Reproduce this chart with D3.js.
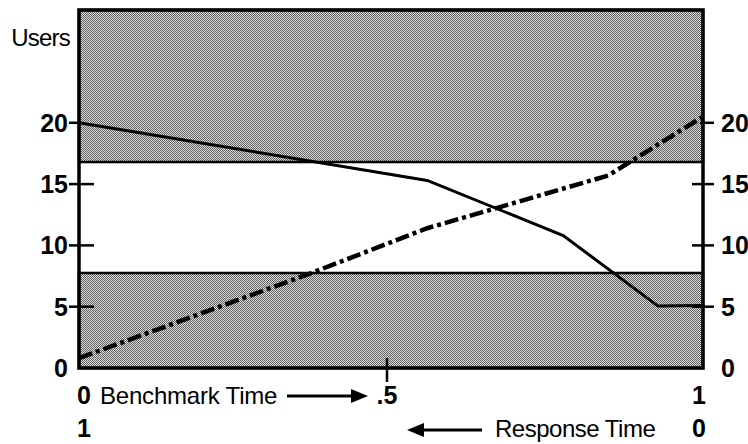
<!DOCTYPE html>
<html>
<head>
<meta charset="utf-8">
<script src="https://cdn.jsdelivr.net/npm/d3@7"></script>
<style>
  body { margin: 0; background: #fff; }
  svg { display: block; font-family: "Liberation Sans", Arial, Helvetica, sans-serif; }
</style>
</head>
<body>
<div id="chart"></div>
<script>
// data
var userTicks = [0, 5, 10, 15, 20];
var bands = [[16.8, 29.2], [0, 7.75]];     // shaded ranges of users
var solidX = [0, 0.558, 0.776, 0.928, 1];
var solidY = [20, 15.3, 10.8, 5.05, 5.1];
var dashX = [0, 0.37, 0.558, 0.848, 1];
var dashY = [0.8, 7.7, 11.4, 15.7, 20.5];
var benchTicks = [0, 0.5, 1];
var benchLabels = ["0", ".5", "1"];
var respLabels = ["1", "", "0"];

var width = 748, height = 444;

var svg = d3.select('#chart')
    .append('svg')
    .attr('width', width)
    .attr('height', height);

var x = d3.scaleLinear().domain([0, 1]).range([79, 703]);
var y = d3.scaleLinear().domain([0, 29.2]).range([368, 10]);

// checker shading
var defs = svg.append('defs');
var pat = defs.append('pattern')
    .attr('id', 'dots')
    .attr('width', 2).attr('height', 2)
    .attr('patternUnits', 'userSpaceOnUse');
pat.append('rect').attr('width', 2).attr('height', 2).attr('fill', '#dedede');
pat.append('rect').attr('x', 0).attr('y', 0).attr('width', 1).attr('height', 1).attr('fill', '#5e5e5e');
pat.append('rect').attr('x', 1).attr('y', 1).attr('width', 1).attr('height', 1).attr('fill', '#5e5e5e');

svg.selectAll('rect.band')
    .data(bands)
    .enter()
    .append('rect')
    .attr('class', 'band')
    .attr('x', x(0))
    .attr('width', x(1) - x(0))
    .attr('y', function (d) { return y(d[1]); })
    .attr('height', function (d) { return y(d[0]) - y(d[1]); })
    .attr('fill', 'url(#dots)')
    .attr('stroke', '#000')
    .attr('stroke-width', 2.5);

// frame
svg.append('rect')
    .attr('x', x(0)).attr('y', y(29.2))
    .attr('width', x(1) - x(0))
    .attr('height', y(0) - y(29.2))
    .attr('fill', 'none')
    .attr('stroke', '#000')
    .attr('stroke-width', 3.5);

// y ticks both sides
var tickG = svg.append('g').attr('stroke', '#000').attr('stroke-width', 2.5);
userTicks.filter(function (d) { return d > 0; }).forEach(function (d) {
    tickG.append('line')
        .attr('x1', x(0) - 10).attr('x2', d === 20 ? x(0) : x(0) + 15)
        .attr('y1', y(d)).attr('y2', y(d));
    tickG.append('line')
        .attr('x1', x(1) - (d === 20 ? 3 : 11)).attr('x2', x(1) + 11)
        .attr('y1', y(d)).attr('y2', y(d));
});
// .5 tick
tickG.append('line')
    .attr('x1', x(0.5) - 4).attr('x2', x(0.5) - 4)
    .attr('y1', y(0) - 10).attr('y2', y(0) + 14);

svg.selectAll('text.yl')
    .data(userTicks)
    .enter()
    .append('text')
    .attr('class', 'yl')
    .attr('x', x(0) - 11)
    .attr('y', function (d) { return y(d); })
    .attr('dy', '0.36em')
    .attr('text-anchor', 'end')
    .attr('font-size', 25)
    .attr('font-weight', 'bold')
    .text(function (d) { return d; });

svg.selectAll('text.yr')
    .data(userTicks)
    .enter()
    .append('text')
    .attr('class', 'yr')
    .attr('x', x(1) + 18)
    .attr('y', function (d) { return y(d); })
    .attr('dy', '0.36em')
    .attr('font-size', 25)
    .attr('font-weight', 'bold')
    .text(function (d) { return d; });

svg.append('text')
    .attr('x', x(0) - 9).attr('y', 46)
    .attr('text-anchor', 'end')
    .attr('font-size', 24)
    .attr('letter-spacing', -0.8)
    .text('Users');

// lines
var line = d3.line()
    .x(function (d) { return x(d[0]); })
    .y(function (d) { return y(d[1]); });

svg.append('path')
    .datum(d3.zip(solidX, solidY))
    .attr('d', line)
    .attr('fill', 'none')
    .attr('stroke', '#000')
    .attr('stroke-width', 3);

svg.append('path')
    .datum(d3.zip(dashX, dashY))
    .attr('d', line)
    .attr('fill', 'none')
    .attr('stroke', '#000')
    .attr('stroke-width', 4.5)
    .attr('stroke-dasharray', '14,4,4,4');

// x labels
function anchorFor(i) { return i === 0 ? 'start' : 'middle'; }
svg.selectAll('text.xb')
    .data(benchTicks)
    .enter()
    .append('text')
    .attr('class', 'xb')
    .attr('x', function (d, i) { return i === 0 ? x(d) - 2 : x(d) - 4; })
    .attr('y', 404)
    .attr('text-anchor', function (d, i) { return anchorFor(i); })
    .attr('font-size', 25)
    .attr('font-weight', 'bold')
    .text(function (d, i) { return benchLabels[i]; });

svg.selectAll('text.xr')
    .data(benchTicks)
    .enter()
    .append('text')
    .attr('class', 'xr')
    .attr('x', function (d, i) { return i === 0 ? x(d) - 2 : x(d) - 4; })
    .attr('y', 437)
    .attr('text-anchor', function (d, i) { return anchorFor(i); })
    .attr('font-size', 25)
    .attr('font-weight', 'bold')
    .text(function (d, i) { return respLabels[i]; });

svg.append('text')
    .attr('x', 100).attr('y', 404)
    .attr('font-size', 24)
    .attr('letter-spacing', -0.2)
    .text('Benchmark Time');

svg.append('text')
    .attr('x', 495).attr('y', 437)
    .attr('font-size', 24)
    .attr('letter-spacing', -0.5)
    .text('Response Time');

// arrows
var ag = svg.append('g').attr('fill', '#000').attr('stroke', '#000');
ag.append('line').attr('x1', 287).attr('x2', 355).attr('y1', 396).attr('y2', 396).attr('stroke-width', 3);
ag.append('path').attr('d', 'M351,389 L368,396 L351,403 Z').attr('stroke', 'none');
ag.append('line').attr('x1', 420).attr('x2', 482).attr('y1', 430).attr('y2', 430).attr('stroke-width', 3);
ag.append('path').attr('d', 'M424,423 L407,430 L424,437 Z').attr('stroke', 'none');
</script>
</body>
</html>
